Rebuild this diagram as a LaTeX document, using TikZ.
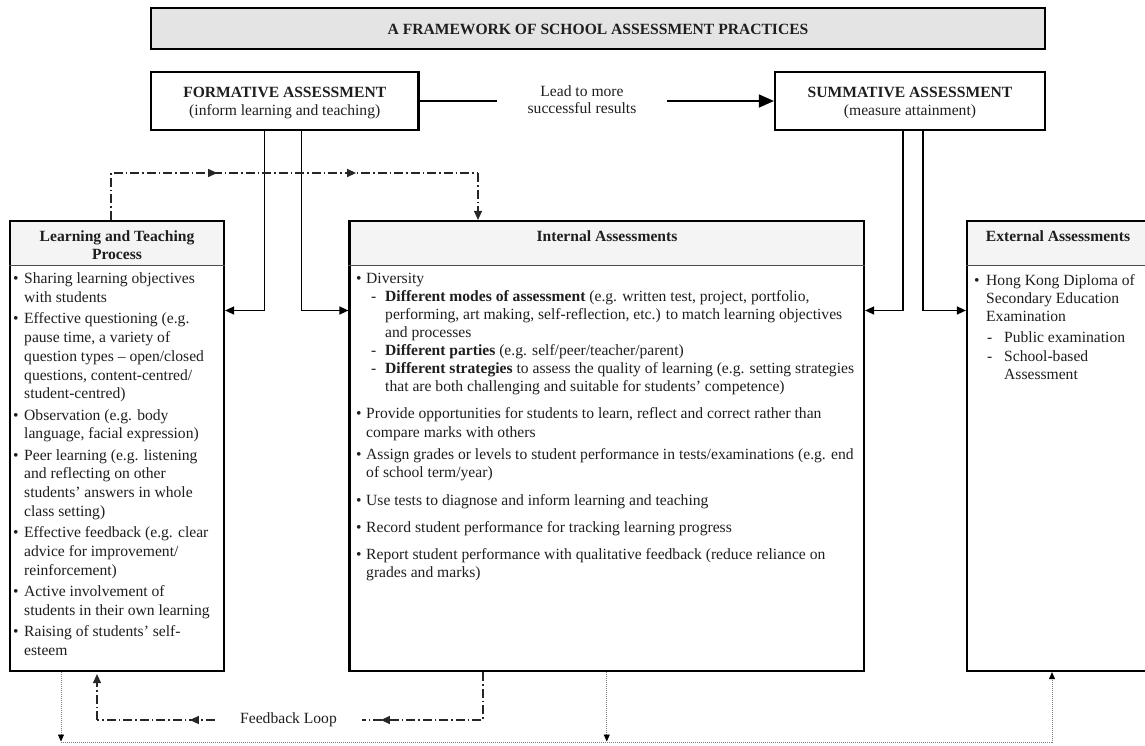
\documentclass[tikz,border=0pt]{standalone}
\usepackage{fontspec}
\setmainfont{Liberation Serif}
\usetikzlibrary{arrows.meta,decorations.markings,backgrounds}
\definecolor{titlefill}{RGB}{228,228,228}
\definecolor{hdrfill}{RGB}{244,244,244}
\definecolor{txt}{RGB}{30,30,30}
\definecolor{dotc}{RGB}{125,125,125}
\newcommand{\fsz}[1]{\fontsize{15.6}{#1}\selectfont}
\newcommand{\bul}[1]{\leavevmode\llap{\makebox[#1][l]{•}}}
\newcommand{\dsh}[1]{\leavevmode\llap{\makebox[#1][l]{-}}}
\begin{document}
\begin{tikzpicture}[x=1pt,y=-1pt,
  font={\fsz{18}},
  every node/.style={text=txt},
  box/.style={draw=black,line width=2.2pt,inner sep=0pt},
  txtnode/.style={inner sep=0pt},
  conn/.style={line width=1.4pt,draw=black},
  tipS/.style={-{Triangle[length=9pt,width=8pt]}},
  dd/.style={line width=1.2pt,draw=black!85,dash pattern=on 9pt off 3pt on 1.5pt off 3pt},
  dots/.style={line width=0.9pt,draw=dotc,dash pattern=on 1pt off 1pt},
  hline/.style={line width=1pt,draw=gray!60!black},
  midtip/.style={postaction={decorate,decoration={markings,mark=at position #1 with {\arrow{Triangle[length=9pt,width=8pt]}}}}},
]
\useasboundingbox (0,0) rectangle (1145,745);

% title
\node[box, fill=titlefill, minimum width=894pt, minimum height=41pt] (title) at (598,28.5) {};
\node[txtnode, anchor=base] (titletxt) at (598,34.5) {\textbf{A FRAMEWORK OF SCHOOL ASSESSMENT PRACTICES}};

% formative / summative
\node[box, minimum width=267.5pt, minimum height=58pt] (form) at (284.75,101) {};
\node[txtnode, anchor=base] (formtxt) at (284.75,97.5) {\parbox[t]{260pt}{\centering\fsz{18}\textbf{FORMATIVE ASSESSMENT}\\(inform learning and teaching)}};
\node[box, minimum width=270pt, minimum height=58pt] (summ) at (910,101) {};
\node[txtnode, anchor=base] (summtxt) at (910,97.5) {\parbox[t]{260pt}{\centering\fsz{18}\textbf{SUMMATIVE ASSESSMENT}\\(measure attainment)}};

\node[txtnode, anchor=base] (lead) at (582,96) {\parbox[t]{150pt}{\centering\fsz{17}Lead to more\\successful results}};
\coordinate (leadL) at (497,101);
\coordinate (leadR) at (667,101);
\draw[conn] (form.east) -- (leadL);
\draw[conn, -{Triangle[length=15pt,width=13pt]}] (leadR) -- (summ.west);

% main boxes
\node[box, minimum width=214pt, minimum height=450pt] (lt) at (117,446) {};
\node[box, minimum width=514.5pt, minimum height=450pt] (int) at (606.75,446) {};
\node[box, minimum width=183pt, minimum height=450pt] (ext) at (1058.5,446) {};
\coordinate (hl) at (0,265.5);
\begin{scope}[on background layer]
\fill[hdrfill] (lt.north west) rectangle (lt.east |- hl);
\fill[hdrfill] (int.north west) rectangle (int.east |- hl);
\fill[hdrfill] (ext.north west) rectangle (ext.east |- hl);
\end{scope}
\draw[hline] (lt.west |- hl) -- (lt.east |- hl);
\draw[hline] (int.west |- hl) -- (int.east |- hl);
\draw[hline] (ext.west |- hl) -- (ext.east |- hl);

\node[txtnode, anchor=base] (lthd) at (117,241.7) {\parbox[t]{200pt}{\centering\fsz{17.3}\bfseries Learning and Teaching\\Process}};
\node[txtnode, anchor=base] (inthd) at (607,241.7) {\textbf{Internal Assessments}};
\node[txtnode, anchor=base] (exthd) at (1058,241.7) {\textbf{External Assessments}};

% bodies
\node[txtnode, anchor=base west] (ltbody) at (24,283.5) {\parbox[t]{200pt}{\fsz{18.85}\raggedright
\bul{11pt}Sharing learning objectives\\with students\par\vspace{2.3pt}
\bul{11pt}Effective questioning (e.g.\\pause time, a variety of\\question types – open/closed\\questions, content-centred/\\student-centred)\par\vspace{2.3pt}
\bul{11pt}Observation (e.g. body\\language, facial expression)\par\vspace{2.3pt}
\bul{11pt}Peer learning (e.g. listening\\and reflecting on other\\students’ answers in whole\\class setting)\par\vspace{2.3pt}
\bul{11pt}Effective feedback (e.g. clear\\advice for improvement/\\reinforcement)\par\vspace{2.3pt}
\bul{11pt}Active involvement of\\students in their own learning\par\vspace{2.3pt}
\bul{11pt}Raising of students’ self-\\esteem}};

\node[txtnode, anchor=base west] (intbody) at (366,283.3) {\parbox[t]{490pt}{\fsz{18.07}\raggedright
\bul{10pt}Diversity\par
\leftskip=19pt \dsh{14pt}\textbf{Different modes of assessment} (e.g. written test, project, portfolio,\\performing, art making, self-reflection, etc.) to match learning objectives\\and processes\par
\dsh{14pt}\textbf{Different parties} (e.g. self/peer/teacher/parent)\par
\dsh{14pt}\textbf{Different strategies} to assess the quality of learning (e.g. setting strategies\\that are both challenging and suitable for students’ competence)\par
\leftskip=0pt\vspace{9.2pt}
\bul{10pt}Provide opportunities for students to learn, reflect and correct rather than\\compare marks with others\par\vspace{4.6pt}
\bul{10pt}Assign grades or levels to student performance in tests/examinations (e.g. end\\of school term/year)\par\vspace{9.3pt}
\bul{10pt}Use tests to diagnose and inform learning and teaching\par\vspace{9.5pt}
\bul{10pt}Record student performance for tracking learning progress\par\vspace{8.6pt}
\bul{10pt}Report student performance with qualitative feedback (reduce reliance on\\grades and marks)}};

\node[txtnode, anchor=base west] (extbody) at (986,285.5) {\parbox[t]{160pt}{\fsz{17.8}\raggedright
\bul{12pt}Hong Kong Diploma of\\Secondary Education\\Examination\par\vspace{4pt}
\leftskip=18pt \dsh{17pt}Public examination\par\vspace{1pt}
\dsh{17pt}School-based\\Assessment}};

% formative / summative connectors
\coordinate (row) at (0,310.5);
\draw[conn,tipS] ([xshift=-20.25pt]form.south) |- (lt.east |- row);
\draw[conn,tipS] ([xshift=16.75pt]form.south) |- (int.west |- row);
\draw[conn,tipS] ([xshift=-7pt]summ.south) |- (int.east |- row);
\draw[conn,tipS] ([xshift=13pt]summ.south) |- (ext.west |- row);

% top dash-dot loop
\coordinate (ddA) at (111,173);
\coordinate (ddB) at (478,173);
\draw[dd, midtip=153pt, midtip=292pt] (lt.north -| ddA) -- (ddA) -- (ddB);
\draw[dd, tipS] (ddB) -- (int.north -| ddB);

% feedback loop
\node[txtnode, minimum width=147pt, fill=white] (fb) at (288.5,720) {Feedback Loop};
\coordinate (fbR) at (483,720);
\coordinate (fbL) at (97,720);
\draw[dd, midtip=150pt] (int.south -| fbR) -- (fbR) -- (fb.east);
\draw[dd, midtip=25pt] (fb.west) -- (fbL);
\draw[dd, tipS, shorten >=2pt] (fbL) -- (lt.south -| fbL);

% bottom dotted lines
\coordinate (botL) at (61,742.5);
\coordinate (botR) at (1052,742.5);
\draw[dots, -{Triangle[length=7pt,width=6pt,color=black]}] (lt.south -| botL) -- ([yshift=1pt]botL);
\draw[dots] (botL) -- (botR);
\draw[dots, -{Triangle[length=7pt,width=6pt,color=black]}] (int.south) -- ([yshift=1pt]int.south |- botL);
\draw[dots, -{Triangle[length=7pt,width=6pt,color=black]}] (botR) -- (ext.south -| botR);
\end{tikzpicture}
\end{document}
